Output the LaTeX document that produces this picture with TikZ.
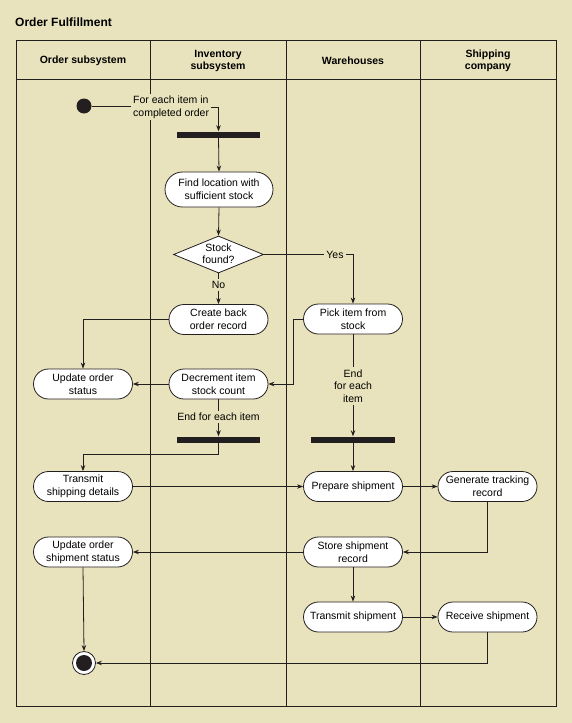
\documentclass[tikz,border=0pt]{standalone}
\usepackage{fontspec}
\setmainfont{Liberation Sans}
\usetikzlibrary{shapes.misc,shapes.geometric,arrows.meta}
\definecolor{bg}{HTML}{E8E3BC}
\definecolor{ink}{HTML}{231F20}
\begin{document}
\begin{tikzpicture}[x=1pt,y=-1pt,
  act/.style={rounded rectangle, draw=ink, fill=white, line width=0.8pt,
    minimum width=99pt, minimum height=30pt, inner sep=0pt, align=center,
    font=\fontsize{10.5}{12.7}\selectfont},
  lbl/.style={fill=bg, inner sep=2pt, align=center, font=\fontsize{10.5}{12.7}\selectfont},
  flow/.style={draw=ink, line width=0.8pt, -{Stealth[length=6pt,width=4.5pt]}},
  plain/.style={draw=ink, line width=0.8pt},
  bar/.style={fill=ink, draw=none, minimum width=83pt, minimum height=6pt, inner sep=0pt},
  hdr/.style={font=\bfseries\fontsize{10.5}{12}\selectfont, align=center},
  lane/.style={draw=ink, line width=1pt}]
% background
\fill[bg] (0,0) rectangle (572,723);
\useasboundingbox (0,0) rectangle (572,723);
% title
\node[anchor=west, inner sep=0pt, font=\bfseries\fontsize{12}{14}\selectfont] (title) at (15,22) {Order Fulfillment};
% swimlanes
\draw[lane] (16,40) rectangle (556,706);
\draw[lane] (16,79) -- (556,79);
\draw[lane] (150,40) -- (150,706);
\draw[lane] (286,40) -- (286,706);
\draw[lane] (420,40) -- (420,706);
\node[hdr] (h1) at (83,60.5) {Order subsystem};
\node[hdr] (h2) at (218,60.5) {Inventory\\subsystem};
\node[hdr] (h3) at (353,60.5) {Warehouses};
\node[hdr] (h4) at (488,60.5) {Shipping\\company};
% nodes
\node[circle, fill=ink, minimum size=15pt, inner sep=0pt] (start) at (84,106) {};
\node[lbl, anchor=west, align=left] (fe) at (131,107) {For each item in\\completed order};
\node[bar] (bar1) at (218.5,134.5) {};
\node[act, minimum width=108pt, minimum height=35pt] (find) at (219,189.5) {Find location with\\sufficient stock};
\node[diamond, draw=ink, fill=white, line width=0.8pt, minimum width=90pt, minimum height=37pt, inner sep=0pt] (dec) at (218.5,254.5) {};
\node[align=center, inner sep=0pt, font=\fontsize{10.5}{12.2}\selectfont] (dect) at (218.5,253.5) {Stock\\found?};
\node[lbl] (no) at (218.5,285) {No};
\node[act] (create) at (218.5,319.5) {Create back\\order record};
\node[act] (upd) at (83,384) {Update order\\status};
\node[act] (decr) at (218.5,384) {Decrement item\\stock count};
\node[lbl] (efe1) at (218.5,417) {End for each item};
\node[bar] (bar2) at (218.5,439.5) {};
\node[act] (tsd) at (83,486.5) {Transmit\\shipping details};
\node[lbl] (yes) at (335,254.5) {Yes};
\node[act] (pick) at (353,319) {Pick item from\\stock};
\node[lbl] (efe2) at (353,386) {End\\for each\\item};
\node[bar, minimum width=84pt] (bar3) at (353,439.5) {};
\node[act] (prep) at (353,486.5) {Prepare shipment};
\node[act] (gen) at (487.5,486.5) {Generate tracking\\record};
\node[act] (store) at (353,552) {Store shipment\\record};
\node[act] (uos) at (83,552) {Update order\\shipment status};
\node[act] (trans) at (353,617) {Transmit shipment};
\node[act] (recv) at (487.5,617) {Receive shipment};
\node[circle, draw=ink, fill=white, line width=0.8pt, minimum size=23pt, inner sep=0pt] (end) at (84,663) {};
\fill[ink] (end.center) circle[radius=8pt];
\coordinate (pk) at (293,319);
\coordinate (b2d) at (218.5,454);
% connectors
\draw[plain] (start) -- (start -| fe.west);
\draw[flow] (fe.east) -| (bar1.north);
\draw[flow] (bar1.south) -- (find.north);
\draw[flow] (find.south) -- (dec.north);
\draw[plain] (dec.south) -- (no.north);
\draw[flow] (no.south) -- (create.north);
\draw[plain] (dec.east) -- (yes.west);
\draw[flow] (yes.east) -| (pick.north);
\draw[flow] (create.west) -| (upd.north);
\draw[flow] (decr.west) -- (upd.east);
\draw[flow] (pick.west) -- (pk) |- (decr.east);
\draw[plain] (decr.south) -- (efe1.north);
\draw[flow] (efe1.south) -- (bar2.north);
\draw[flow] (bar2.south) -- (b2d) -| (tsd.north);
\draw[flow] (tsd.east) -- (prep.west);
\draw[plain] (pick.south) -- (efe2.north);
\draw[flow] (efe2.south) -- (bar3.north);
\draw[flow] (bar3.south) -- (prep.north);
\draw[flow] (prep.east) -- (gen.west);
\draw[flow] (gen.south) |- (store.east);
\draw[flow] (store.west) -- (uos.east);
\draw[flow] (store.south) -- (trans.north);
\draw[flow] (trans.east) -- (recv.west);
\draw[flow] (uos.south) -- (end.north);
\draw[flow] (recv.south) |- (end.east);
\end{tikzpicture}
\end{document}
